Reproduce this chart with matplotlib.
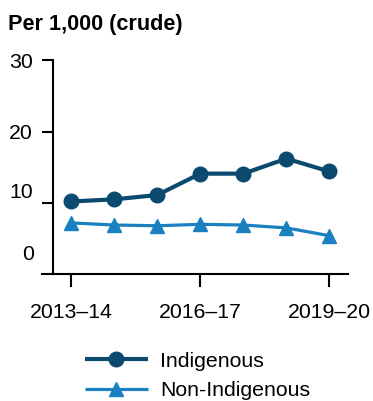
import matplotlib
matplotlib.use("Agg")
import matplotlib.pyplot as plt
from matplotlib.transforms import ScaledTranslation

plt.rcParams['font.family'] = ['Liberation Sans', 'DejaVu Sans']

years = ['2013–14', '2014–15', '2015–16', '2016–17', '2017–18', '2018–19', '2019–20']
indigenous = [10.2, 10.5, 11.1, 14.1, 14.1, 16.2, 14.4]
non_indigenous = [7.2, 6.9, 6.8, 7.0, 6.9, 6.5, 5.4]
yticks = [0, 10, 20, 30]

dark = '#0b4a6e'
light = '#1a80c0'
fs = 15.3

fig = plt.figure(figsize=(3.73, 4.01), dpi=100)
ax = fig.add_axes([0.112, 0.316, 0.821, 0.534])

x = list(range(len(years)))
ax.plot(x, indigenous, color=dark, lw=3, marker='o', ms=10.5, label='Indigenous',
        solid_capstyle='butt', zorder=3)
ax.plot(x, non_indigenous, color=light, lw=2.3, marker='^', ms=10.5, label='Non-Indigenous',
        solid_capstyle='butt', zorder=3)

ax.set_xlim(-0.68, 6.43)
ax.set_ylim(0, 30)
ax.spines['left'].set_position(('data', -0.43))
ax.spines['top'].set_visible(False)
ax.spines['right'].set_visible(False)
for s in ('left', 'bottom'):
    ax.spines[s].set_linewidth(1.5)

ax.set_xticks([0, 3, 6])
ax.set_xticklabels([years[0], years[3], years[6]])
ax.set_yticks(yticks[1:])
ax.set_yticklabels([str(v) for v in yticks[1:]])
ax.tick_params(axis='x', length=9.5, width=1.5, pad=11, labelsize=fs)
ax.tick_params(axis='y', length=8, width=1.5, pad=6, labelsize=fs)

# the lower labels sit a little above their ticks
lbls = ax.get_yticklabels()
lbls[0].set_transform(lbls[0].get_transform() + ScaledTranslation(0, 9 / 72, fig.dpi_scale_trans))
ax.text(-0.68 - 0.19, 0, '0', ha='right', va='center', fontsize=fs,
        transform=ax.transData + ScaledTranslation(0, 14 / 72, fig.dpi_scale_trans))

fig.text(0.022, 0.94, 'Per 1,000 (crude)', fontsize=15.6, fontweight='bold',
         ha='left', va='center')

fig.legend(loc='upper left', bbox_to_anchor=(0.228, 0.123), frameon=False,
           fontsize=fs, handlelength=2.95, handletextpad=0.6, labelspacing=0.5,
           borderaxespad=0, borderpad=0)

fig.savefig('out.png', dpi=100)
